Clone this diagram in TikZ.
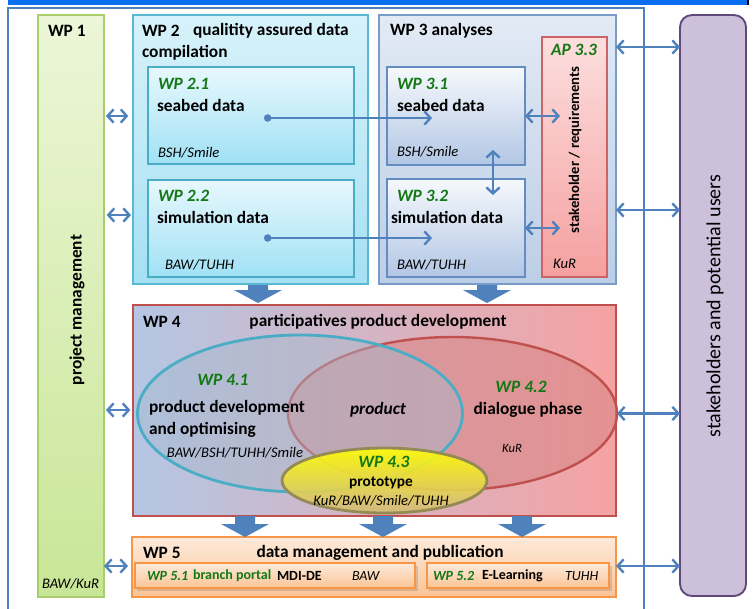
\documentclass[tikz,border=0pt]{standalone}
\usepackage{fontspec}
\setmainfont{Carlito}
\usetikzlibrary{arrows.meta,shapes.geometric,fit}
\definecolor{abl}{RGB}{79,129,189}
\definecolor{topblue}{RGB}{10,110,240}
\definecolor{wpgreen}{RGB}{20,120,20}
\definecolor{wp1d}{RGB}{170,205,110}
\definecolor{wp1t}{RGB}{236,246,216}
\definecolor{wp1b}{RGB}{200,230,150}
\definecolor{wp2d}{RGB}{90,185,210}
\definecolor{wp2t}{RGB}{215,242,250}
\definecolor{wp2b}{RGB}{165,224,243}
\definecolor{wp2xd}{RGB}{75,172,198}
\definecolor{wp2xt}{RGB}{232,248,253}
\definecolor{wp2xb}{RGB}{160,225,245}
\definecolor{wp3d}{RGB}{120,155,200}
\definecolor{wp3t}{RGB}{226,234,245}
\definecolor{wp3b}{RGB}{188,206,230}
\definecolor{wp3xd}{RGB}{100,140,195}
\definecolor{wp3xt}{RGB}{246,249,253}
\definecolor{wp3xb}{RGB}{178,198,228}
\definecolor{apd}{RGB}{205,100,100}
\definecolor{apt}{RGB}{252,222,222}
\definecolor{apb}{RGB}{245,160,160}
\definecolor{wp4d}{RGB}{192,80,77}
\definecolor{wp4l}{RGB}{180,198,228}
\definecolor{wp4r}{RGB}{246,162,162}
\definecolor{e1d}{RGB}{75,172,198}
\definecolor{e1f}{RGB}{165,185,205}
\definecolor{e2f}{RGB}{217,135,135}
\definecolor{e3d}{RGB}{148,138,84}
\definecolor{e3t}{RGB}{255,255,0}
\definecolor{e3b}{RGB}{210,185,125}
\definecolor{wp5d}{RGB}{247,150,70}
\definecolor{wp5t}{RGB}{253,234,218}
\definecolor{wp5b}{RGB}{250,196,150}
\definecolor{stkd}{RGB}{95,73,122}
\definecolor{stkf}{RGB}{204,192,218}
\begin{document}
\begin{tikzpicture}[x=0.75pt,y=-0.75pt,
  every node/.style={inner sep=0pt, outer sep=0pt},
  box/.style={draw, line width=0.9pt},
  hd/.style={font=\fontsize{13}{15}\selectfont\bfseries, anchor=west},
  hdc/.style={font=\fontsize{13}{15}\selectfont\bfseries},
  wpl/.style={font=\fontsize{13}{15}\selectfont\bfseries\itshape, text=wpgreen, anchor=west},
  wplc/.style={font=\fontsize{13}{15}\selectfont\bfseries\itshape, text=wpgreen},
  who/.style={font=\fontsize{11}{13}\selectfont\itshape, anchor=west},
  whoc/.style={font=\fontsize{11}{13}\selectfont\itshape},
  sub/.style={font=\fontsize{10.5}{12}\selectfont\bfseries, anchor=west},
  barb/.tip={Straight Barb[length=4.5pt,width=10pt]},
  conn/.style={draw=abl, line width=1.8pt},
  dbl/.style={conn, barb-barb},
  dotarrow/.style={conn, {Circle[length=5.5pt]}-barb},
  pics/blockdown/.style={code={\fill[abl] (-10,0) -- (10,0) -- (10,#1) -- (24,#1) -- (0,#1+13) -- (-24,#1) -- (-10,#1) -- cycle;}}
]
\useasboundingbox (0,0) rectangle (753,608);

% window bar and frame
\fill[topblue] (8,0) rectangle (748,4.5);
\draw[black, line width=0.8pt] (748,0) -- (748,5);
\draw[abl, line width=1.2pt] (8,612) -- (8,8) -- (644,8) -- (644,612);

% WP1
\node[box, draw=wp1d, top color=wp1t, bottom color=wp1b, fit={(38,15) (104,597)}] (wp1) {};
\node[hd] (wp1t) at (48,31) {WP 1};
\node[hdc, rotate=90] (wp1n) at (77,310) {project management};
\node[who] (wp1w) at (42,584) {BAW/KuR};

% WP2
\node[box, draw=wp2d, top color=wp2t, bottom color=wp2b, fit={(133,15) (368,284)}] (wp2) {};
\node[hd] (wp2t) at (142,31) {WP 2};
\node[hd] (wp2n) at (193,31) {qualitity assured data};
\node[hd] (wp2n2) at (142,53) {compilation};

\node[box, draw=wp2xd, top color=wp2xt, bottom color=wp2xb, fit={(148,67) (354,164)}] (wp21) {};
\node[wpl] (wp21t) at (158,84) {WP 2.1};
\node[hd] (wp21n) at (157,105) {seabed data};
\node[who] (wp21w) at (158,153) {BSH/Smile};

\node[box, draw=wp2xd, top color=wp2xt, bottom color=wp2xb, fit={(148,180) (354,277)}] (wp22) {};
\node[wpl] (wp22t) at (158,196) {WP 2.2};
\node[hd] (wp22n) at (157,217) {simulation data};
\node[who] (wp22w) at (165,265) {BAW/TUHH};

% WP3
\node[box, draw=wp3d, top color=wp3t, bottom color=wp3b, fit={(379,15) (616,284)}] (wp3) {};
\node[hd] (wp3t) at (390,31) {WP 3 analyses};

\node[box, draw=wp3xd, top color=wp3xt, bottom color=wp3xb, fit={(387,67) (525,165)}] (wp31) {};
\node[wpl] (wp31t) at (397,84) {WP 3.1};
\node[hd] (wp31n) at (397,105) {seabed data};
\node[who] (wp31w) at (397,152) {BSH/Smile};

\node[box, draw=wp3xd, top color=wp3xt, bottom color=wp3xb, fit={(387,179) (525,277)}] (wp32) {};
\node[wpl] (wp32t) at (397,196) {WP 3.2};
\node[hd] (wp32n) at (391,217) {simulation data};
\node[who] (wp32w) at (397,265) {BAW/TUHH};

\node[box, draw=apd, top color=apt, bottom color=apb, fit={(542,37) (607,277)}] (ap33) {};
\node[wplc] (ap33t) at (574,50) {AP 3.3};
\node[font=\fontsize{11}{13}\selectfont\bfseries, rotate=90] (ap33n) at (575,150) {stakeholder / requirements};
\node[who] (ap33w) at (553,264) {KuR};

% stakeholders
\node[draw=stkd, line width=1.4pt, fill=stkf, rounded corners=9pt, fit={(680,15) (746,596)}] (stk) {};
\node[font=\fontsize{15}{17}\selectfont, rotate=90] (stkn) at (715,306) {stakeholders and potential users};

% WP4
\node[box, draw=wp4d, left color=wp4l, right color=wp4r, fit={(133,305) (616,516)}] (wp4) {};
\node[hd] (wp4t) at (143,322) {WP 4};
\node[hdc] (wp4n) at (378,322) {participatives product development};

\node[ellipse, draw=wp4d, line width=1.8pt, fill=e2f, fill opacity=0.6, draw opacity=1,
      minimum width=246.75pt, minimum height=114.75pt] (wp42) at (452.5,413.5) {};
\node[ellipse, draw=e1d, line width=2.1pt, fill=e1f, fill opacity=0.45, draw opacity=1,
      minimum width=243.75pt, minimum height=117.75pt] (wp41) at (300,413.5) {};

\node[wplc] (wp41t) at (223,380) {WP 4.1};
\node[hd] (wp41n) at (149,408) {product development};
\node[hd] (wp41n2) at (149,430) {and optimising};
\node[whoc] (wp41w) at (235,453) {BAW/BSH/TUHH/Smile};
\node[font=\fontsize{13}{15}\selectfont\bfseries\itshape] (prod) at (378,410) {product};
\node[wplc] (wp42t) at (521,387) {WP 4.2};
\node[hdc] (wp42n) at (528,410) {dialogue phase};
\node[font=\fontsize{9.5}{11}\selectfont\itshape] (wp42w) at (512,448) {KuR};

\node[ellipse, draw=e3d, line width=2.1pt, top color=e3t, bottom color=e3b, fill opacity=0.9, draw opacity=1,
      minimum width=153.75pt, minimum height=48.75pt] (wp43) at (384.5,480.5) {};
\node[wplc] (wp43t) at (384,462) {WP 4.3};
\node[font=\fontsize{11.5}{13}\selectfont\bfseries] (wp43n) at (381,483) {prototype};
\node[whoc] (wp43w) at (381,501) {KuR/BAW/Smile/TUHH};

% WP5
\node[box, draw=wp5d, top color=wp5t, bottom color=wp5b, fit={(132,537) (616,597)}] (wp5) {};
\node[hd] (wp5t) at (143,553) {WP 5};
\node[hdc] (wp5n) at (380,553) {data management and publication};

\fill[black, opacity=0.12] (137,566) rectangle (418,591);
\node[box, draw=wp5d, line width=0.8pt, top color=wp5t, bottom color=wp5b, fit={(135,563) (415,588)}] (wp51) {};
\node[sub, font=\fontsize{10.5}{12}\selectfont\bfseries\itshape, text=wpgreen] (wp51t) at (147,576) {WP 5.1};
\node[sub, text=wpgreen] (wp51g) at (193,576) {branch portal};
\node[sub] (wp51n) at (277,576) {MDI-DE};
\node[who, font=\fontsize{10.5}{12}\selectfont\itshape] (wp51w) at (352,576) {BAW};

\fill[black, opacity=0.12] (429,566) rectangle (612,591);
\node[box, draw=wp5d, line width=0.8pt, top color=wp5t, bottom color=wp5b, fit={(427,563) (609,588)}] (wp52) {};
\node[sub, font=\fontsize{10.5}{12}\selectfont\bfseries\itshape, text=wpgreen] (wp52t) at (433,576) {WP 5.2};
\node[sub] (wp52n) at (482,576) {E-Learning};
\node[who, font=\fontsize{10.5}{12}\selectfont\itshape] (wp52w) at (565,576) {TUHH};

% block arrows
\pic at (258,285) {blockdown=5};
\pic at (487,285) {blockdown=5};
\pic at (245,516) {blockdown=8};
\pic at (383,516) {blockdown=8};
\pic at (522,516) {blockdown=8};

% helper rows
\coordinate (y47) at (0,47);
\coordinate (y116) at (0,116);
\coordinate (y118) at (0,118);
\coordinate (y150) at (0,150);
\coordinate (y195) at (0,195);
\coordinate (y210) at (0,210);
\coordinate (y215) at (0,215);
\coordinate (y228) at (0,228);
\coordinate (y238) at (0,238);
\coordinate (y410) at (0,410);
\coordinate (y566) at (0,566);
\coordinate (x264) at (264,0);
\coordinate (x432) at (432,0);
\coordinate (x493) at (493,0);
\coordinate (x560) at (560,0);

% left connectors
\draw[dbl, shorten <=1.5pt, shorten >=3.5pt] (wp1.east |- y116) -- (wp2.west |- y116);
\draw[dbl, shorten <=2pt, shorten >=1.5pt] (wp1.east |- y215) -- (wp2.west |- y215);
\draw[dbl, shorten <=1.5pt, shorten >=2pt] (wp1.east |- y410) -- (wp4.west |- y410);
\draw[dbl, shorten >=3pt] (wp1.east |- y566) -- (wp5.west |- y566);

% right connectors
\draw[dbl] (wp3.east |- y47) -- (stk.west |- y47);
\draw[dbl] (wp3.east |- y210) -- (stk.west |- y210);
\draw[dbl] (wp42.east) -- (stk.west |- wp42.east);
\draw[dbl] (wp5.east |- y566) -- (stk.west |- y566);

% WP3 internal
\draw[dbl] (wp31.east |- y116) -- (x560 |- y116);
\draw[dbl] (wp32.east |- y228) -- (x560 |- y228);
\draw[dbl] (x493 |- y150) -- (x493 |- y195);

% data flow
\draw[dotarrow] (x264 |- y118) -- (x432 |- y118);
\draw[dotarrow] (x264 |- y238) -- (x432 |- y238);
\end{tikzpicture}
\end{document}
